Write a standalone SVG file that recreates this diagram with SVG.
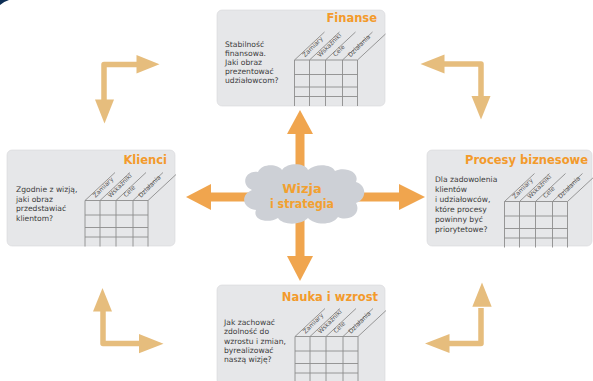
<svg xmlns="http://www.w3.org/2000/svg" xmlns:xlink="http://www.w3.org/1999/xlink" width="593" height="381" viewBox="0 0 593 381">
<style>
.card{fill:#e6e7e9;stroke:#d6d7da;stroke-width:0.6}
.title{font-family:"DejaVu Sans",Verdana,sans-serif;font-weight:bold;font-size:11.5px;fill:#f39a2b;text-anchor:end}
.body{font-family:"DejaVu Sans",Verdana,sans-serif;font-size:7.6px;fill:#3c3c3c}
.gl{stroke:#8c8c8c;stroke-width:0.9;fill:none}
.lab{font-family:"DejaVu Sans",Verdana,sans-serif;font-size:6.2px;fill:#555}
.big{fill:#f0a54e}
.tan{fill:#e6bd7d}
.tanl{stroke:#e6bd7d;stroke-width:5.5;fill:none;stroke-linejoin:round}
.cloudt{font-family:"DejaVu Sans",Verdana,sans-serif;font-weight:bold;font-size:13px;fill:#f2a030;text-anchor:middle}
</style>
<defs>
<g id="grid">
<path class="gl" d="M0,0V46M15,0V46M31,0V46M48,0V46M63,0V46M0,0H63M0,14.5H63M0,27H63M0,36.5H63M0,0l30,-28M15,0l30,-28M31,0l30,-28M48,0l30,-28M63,0l28,-26"/>
<text class="lab" transform="translate(10.5,-2.5) rotate(-45)">Zamiary</text>
<text class="lab" transform="translate(25.5,-2.5) rotate(-45)">Wskaźniki</text>
<text class="lab" transform="translate(41,-3) rotate(-45)">Cele</text>
<text class="lab" transform="translate(56,-2.5) rotate(-45)">Działania</text>
</g>
</defs>
<path d="M0,0H9Q4,1.5 0,5Z" fill="#0d2f55"/>
<g id="connectors">
<rect class="big" x="295.5" y="132" width="9" height="40"/>
<polygon class="big" points="287,134 313,134 300,110"/>
<rect class="big" x="295.5" y="212" width="9" height="46"/>
<polygon class="big" points="287,256 313,256 300,281"/>
<rect class="big" x="209" y="192.5" width="48" height="9"/>
<polygon class="big" points="211,184 211,210 186,197"/>
<rect class="big" x="352" y="192.5" width="49" height="9"/>
<polygon class="big" points="399,184 399,210 425,197"/>
<path class="tanl" d="M104,102V64.5H138"/>
<polygon class="tan" points="136.5,55 136.5,73.5 159.5,64.3"/>
<polygon class="tan" points="95,99.5 114,99.5 104.5,123.5"/>
<path class="tanl" d="M443,64H481V98"/>
<polygon class="tan" points="444.5,54.5 444.5,73.5 420.5,64"/>
<polygon class="tan" points="471.5,96 490.5,96 481,119.5"/>
<path class="tanl" d="M103,310V343.5H140"/>
<polygon class="tan" points="93,311.5 112,311.5 102.5,288"/>
<polygon class="tan" points="139,334 139,353.3 163.5,343.7"/>
<path class="tanl" d="M481,308V343.5H448"/>
<polygon class="tan" points="472.3,306.7 491.7,306.7 482,282.5"/>
<polygon class="tan" points="449.5,334 449.5,353 425,343.5"/>
</g>
<g id="node-wizja">
<path fill="#cdd0d6" d="M252,190C240,185 245,170 258,172C262,163 278,164 282,170C288,162 305,163 308,170C315,163 332,164 335,171C345,166 360,172 356,182C368,186 366,200 356,203C362,214 348,222 338,217C332,226 314,225 308,218C300,226 282,225 278,218C268,224 252,220 256,210C242,208 240,195 252,190Z"/>
<text class="cloudt" x="302" y="193">Wizja</text>
<text class="cloudt" x="302" y="208" textLength="64" lengthAdjust="spacingAndGlyphs">i strategia</text>
</g>
<g id="node-finanse">
<rect class="card" x="217" y="10" width="168" height="96" rx="5"/>
<text class="title" x="377" y="22">Finanse</text>
<text class="body"><tspan x="225" y="47">Stabilność</tspan><tspan x="225" y="56">finansowa.</tspan><tspan x="225" y="65">Jaki obraz</tspan><tspan x="225" y="74">prezentować</tspan><tspan x="225" y="83">udziałowcom?</tspan></text>
<use xlink:href="#grid" x="294.5" y="60"/>
</g>
<g id="node-klienci">
<rect class="card" x="7" y="150" width="168" height="96" rx="5"/>
<text class="title" x="167" y="164.4">Klienci</text>
<text class="body"><tspan x="16" y="192">Zgodnie z wizją,</tspan><tspan x="16" y="201.7">jaki obraz</tspan><tspan x="16" y="211.4">przedstawiać</tspan><tspan x="16" y="221">klientom?</tspan></text>
<use xlink:href="#grid" x="85" y="200.5"/>
</g>
<g id="node-procesy">
<rect class="card" x="427" y="150" width="165" height="96" rx="5"/>
<text class="title" x="588" y="163.6">Procesy biznesowe</text>
<text class="body"><tspan x="435" y="182">Dla zadowolenia</tspan><tspan x="435" y="192">klientów</tspan><tspan x="435" y="202">i udziałowców,</tspan><tspan x="435" y="212">które procesy</tspan><tspan x="435" y="222">powinny być</tspan><tspan x="435" y="232">priorytetowe?</tspan></text>
<use xlink:href="#grid" x="504.5" y="201.5"/>
</g>
<g id="node-nauka">
<rect class="card" x="217" y="285" width="168" height="100" rx="5"/>
<text class="title" x="378" y="300.7">Nauka i wzrost</text>
<text class="body"><tspan x="224" y="324.7">Jak zachować</tspan><tspan x="224" y="334.1">zdolność do</tspan><tspan x="224" y="343.5">wzrostu i zmian,</tspan><tspan x="224" y="352.9">byrealizować</tspan><tspan x="224" y="362.3">naszą wizję?</tspan></text>
<use xlink:href="#grid" x="295" y="336.5"/>
</g>
</svg>
